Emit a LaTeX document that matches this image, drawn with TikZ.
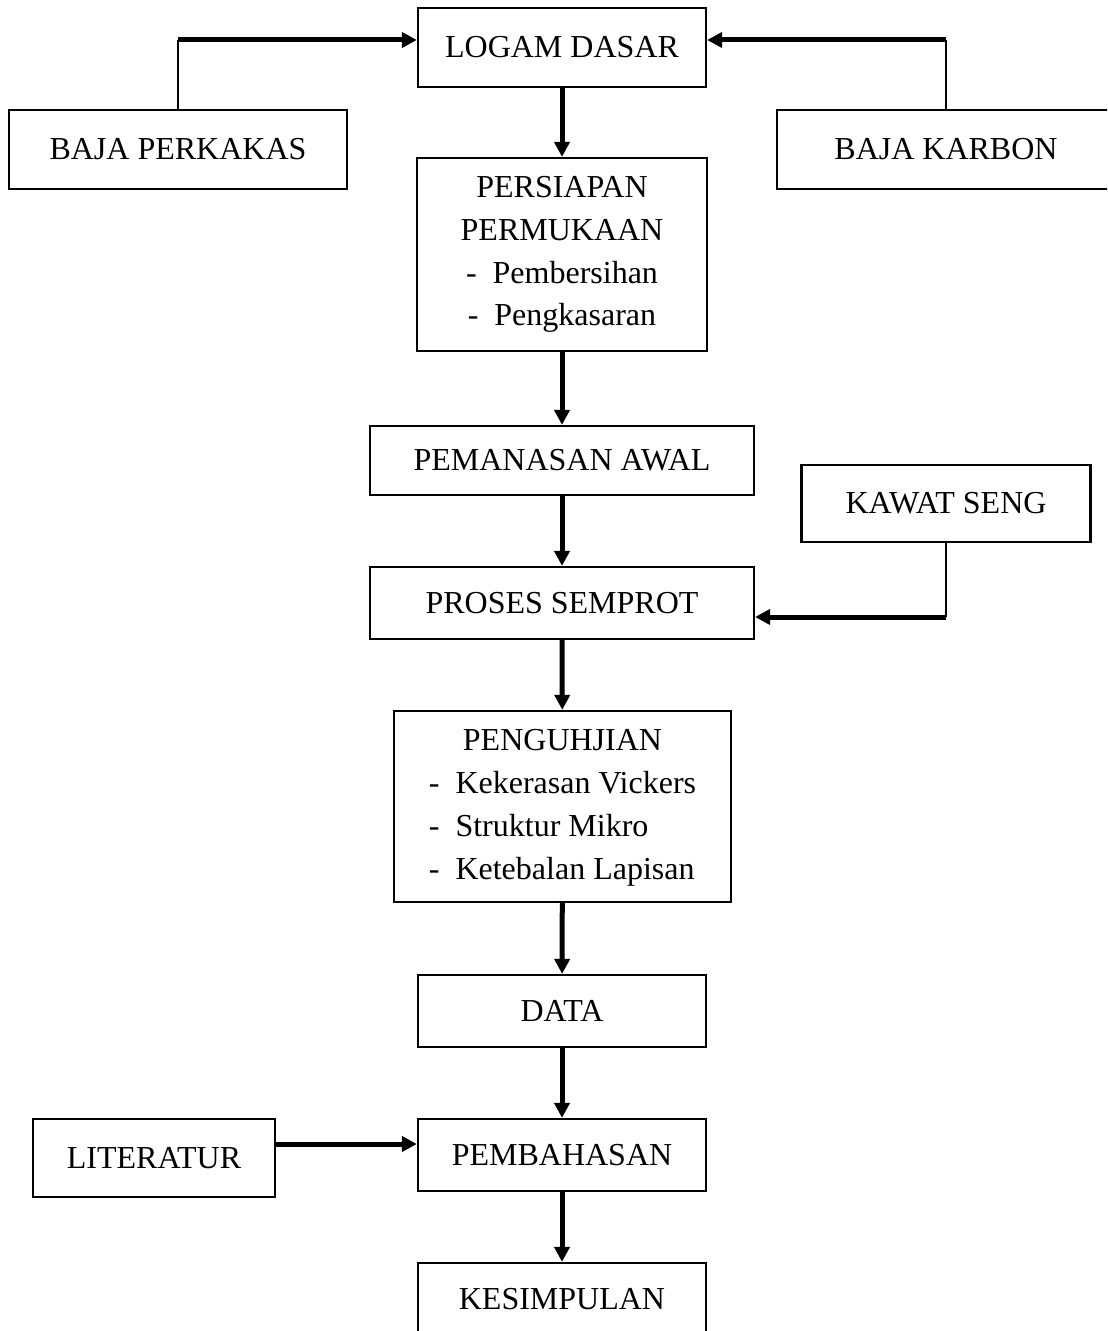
\documentclass[tikz,border=0pt]{standalone}
\usepackage{fontspec}
\setmainfont{Liberation Serif}
\usetikzlibrary{arrows.meta}

\begin{document}
\begin{tikzpicture}[x=0.5pt,y=-0.5pt,font=\fontsize{16}{21.4}\selectfont,>={Triangle[length=7.5pt,width=7.5pt]}]
% Page size, the right and bottom boxes run off the page
\useasboundingbox (0,0) rectangle (1107,1331);
\clip (0,0) rectangle (1107,1331);
% Three styles: boxes, thick arrows and thin feeder lines
\tikzstyle{box}=[draw,line width=1.1pt,inner sep=0pt,align=center];
\tikzstyle{flow}=[draw,->,line width=2.5pt];
\tikzstyle{feed}=[draw,line width=1pt];
% The boxes
\node(lg)[box,minimum width=144pt,minimum height=39.5pt] at (562,47.5){LOGAM DASAR};
\node(bp)[box,minimum width=169pt,minimum height=39.5pt] at (178,149.5){BAJA PERKAKAS};
\node(bk)[box,minimum width=169pt,minimum height=39.5pt] at (946,149.5){BAJA KARBON};
\node(ps)[box,minimum width=145pt,minimum height=96.5pt] at (562,254.5){PERSIAPAN\\PERMUKAAN\\-\ \ Pembersihan\\-\ \ Pengkasaran};
\node(pa)[box,minimum width=192pt,minimum height=34.5pt] at (562,460.5){PEMANASAN AWAL};
\node(ks)[box,minimum width=144.5pt,minimum height=38.5pt] at (946,503.5){KAWAT SENG};
\node(sp)[box,minimum width=192pt,minimum height=36pt] at (562,603){PROSES SEMPROT};
\node(pj)[box,minimum width=168.5pt,minimum height=95.5pt] at (562.5,806.5){\begin{tabular}{@{}l@{}}\multicolumn{1}{@{}c@{}}{PENGUHJIAN}\\-\ \ Kekerasan Vickers\\-\ \ Struktur Mikro\\-\ \ Ketebalan Lapisan\end{tabular}};
\node(dt)[box,minimum width=144pt,minimum height=36pt] at (562,1011){DATA};
\node(pb)[box,minimum width=144pt,minimum height=36pt] at (562,1155){PEMBAHASAN};
\node(lt)[box,minimum width=121pt,minimum height=39pt] at (154,1158){LITERATUR};
\node(kp)[box,minimum width=144pt,minimum height=36pt] at (562,1299){KESIMPULAN};
% corner points of the side inputs
\coordinate(bpc) at (bp.north |- 0,40);
\coordinate(bkc) at (bk.north |- 0,40);
\coordinate(ksc) at (ks.south |- 0,617);
\coordinate(ltc) at (lt.east |- 0,1144);
% main flow
\draw[flow](lg)--(ps);
\draw[flow](ps)--(pa);
\draw[flow](pa)--(sp);
\draw[flow](sp)--(pj);
\draw[flow](pj)--(dt);
\draw[flow](dt)--(pb);
\draw[flow](pb)--(kp);
% side inputs
\draw[feed](bp.north)--(bpc);
\draw[flow](bpc)--(bpc -| lg.west);
\draw[feed](bk.north)--(bkc);
\draw[flow](bkc)--(bkc -| lg.east);
\draw[feed](ks.south)--(ksc);
\draw[flow](ksc)--(ksc -| sp.east);
\draw[flow](ltc)--(ltc -| pb.west);
\end{tikzpicture}
\end{document}
